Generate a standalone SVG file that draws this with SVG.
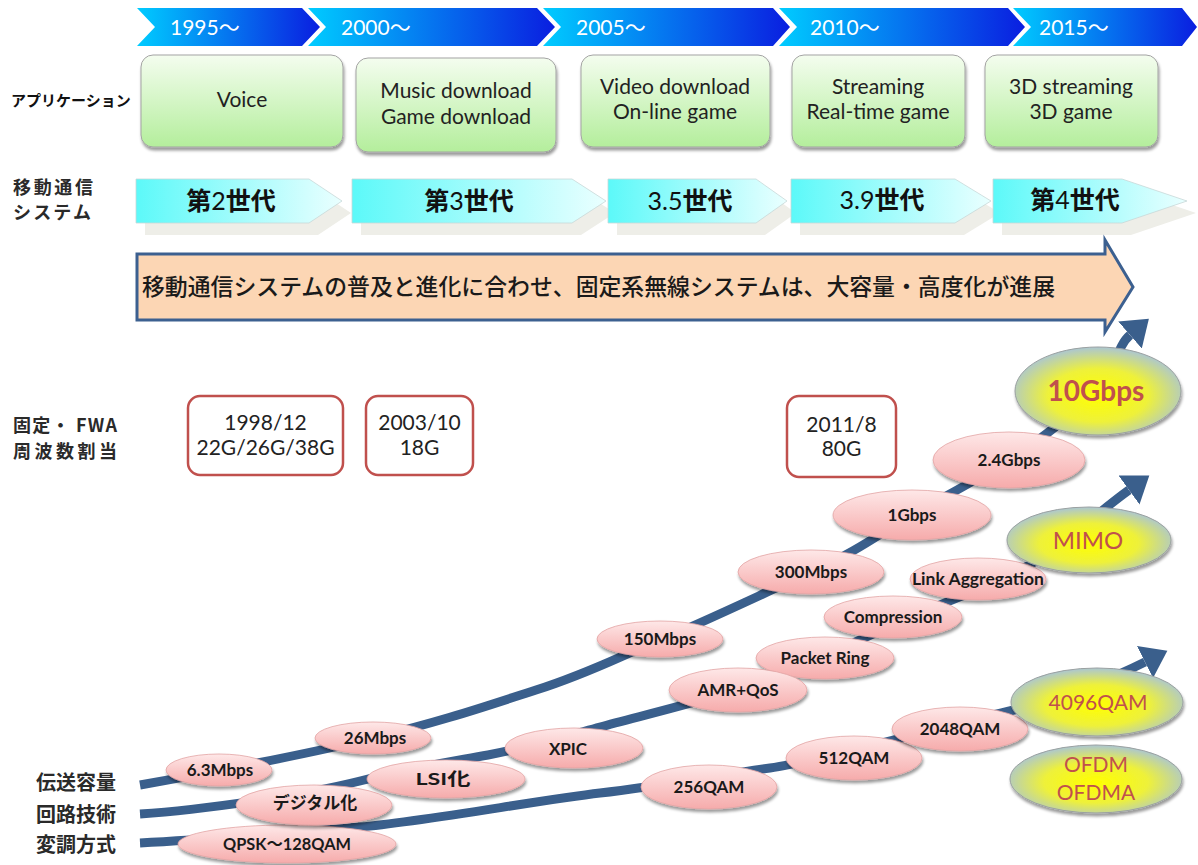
<svg xmlns="http://www.w3.org/2000/svg" width="1198" height="865" viewBox="0 0 1198 865">
<defs>
<style>
.lat{font-family:Lato,"Noto Sans CJK JP",sans-serif}
.jp{font-family:"Noto Sans CJK JP",sans-serif}
.yr{font-size:21px;fill:#fff}
.gb{fill:url(#gGreen);stroke:#a3a3a3;stroke-width:1}
.gt{font-size:21px;fill:#222;text-anchor:middle}
.lbl{font-size:20px;font-weight:bold;fill:#2a2a2a}
.lbs{font-size:18px;font-weight:bold;fill:#2a2a2a}
.gen{font-size:25px;font-weight:bold;fill:#111;text-anchor:middle}
.dg{font-family:Lato,sans-serif;font-weight:normal}
.gsh{fill:#eeeee8}
.fb{fill:#fff;stroke:#c0504d;stroke-width:2.5}
.ft{font-size:21px;fill:#222;text-anchor:middle}
.pk{fill:url(#gPink);stroke:#e2a3a3;stroke-width:0.8}
.pt{font-size:17px;font-weight:bold;fill:#1a1a1a;text-anchor:middle}
.ye{fill:url(#gYel);stroke:#9aa0a0;stroke-width:1}
.yt{fill:#c0504d;text-anchor:middle}
.ln{fill:none;stroke:#3a5f8c;stroke-width:9;marker-end:url(#ah)}
</style>
<linearGradient id="gTop" x1="0" y1="0" x2="1" y2="0"><stop offset="0" stop-color="#00ccff"/><stop offset="1" stop-color="#0a1ee0"/></linearGradient>
<linearGradient id="gGreen" x1="0" y1="0" x2="0" y2="1"><stop offset="0" stop-color="#f4fdef"/><stop offset="1" stop-color="#b4ee9c"/></linearGradient>
<linearGradient id="gGen" x1="0" y1="0" x2="1" y2="0"><stop offset="0" stop-color="#5cf9f9"/><stop offset="1" stop-color="#eaffff"/></linearGradient>
<linearGradient id="gPink" x1="0" y1="0" x2="0" y2="1"><stop offset="0" stop-color="#fee8e8"/><stop offset="1" stop-color="#f6abab"/></linearGradient>
<radialGradient id="gYel" cx="0.5" cy="0.55" r="0.55"><stop offset="0" stop-color="#ffff00"/><stop offset="0.55" stop-color="#eef13a"/><stop offset="1" stop-color="#abc6d2"/></radialGradient>
<filter id="sh" x="-10%" y="-10%" width="130%" height="140%"><feGaussianBlur in="SourceAlpha" stdDeviation="1.5"/><feOffset dx="1" dy="2.5"/><feComponentTransfer><feFuncA type="linear" slope="0.4"/></feComponentTransfer><feMerge><feMergeNode/><feMergeNode in="SourceGraphic"/></feMerge></filter>
<marker id="ah" markerUnits="userSpaceOnUse" markerWidth="28" markerHeight="40" viewBox="0 -20 28 40" refX="0" refY="0" orient="auto"><path d="M0,-18 L25,0 L0,18 z" fill="#3a5f8c"/></marker>
</defs>
<rect width="1198" height="865" fill="#fff"/>

<g id="timeline">
<path d="M137,8 H302 L320,27 L302,46 H137 L155,27 Z" fill="url(#gTop)"/>
<path d="M308,8 H537 L555,27 L537,46 H308 L326,27 Z" fill="url(#gTop)"/>
<path d="M543,8 H773 L790,27 L773,46 H543 L561,27 Z" fill="url(#gTop)"/>
<path d="M779,8 H1008 L1025,27 L1008,46 H779 L797,27 Z" fill="url(#gTop)"/>
<path d="M1013,8 H1182 L1197,27 L1182,46 H1013 L1031,27 Z" fill="url(#gTop)"/>
<text class="lat yr" x="170" y="35">1995～</text>
<text class="lat yr" x="341" y="35">2000～</text>
<text class="lat yr" x="576" y="35">2005～</text>
<text class="lat yr" x="810" y="35">2010～</text>
<text class="lat yr" x="1039" y="35">2015～</text>
</g>

<g id="labels">
<text class="jp" x="11" y="106" font-size="15" font-weight="bold" fill="#111">アプリケーション</text>
<text class="jp lbs" x="13" y="194" textLength="80" lengthAdjust="spacing">移動通信</text>
<text class="jp lbs" x="13" y="219" textLength="78" lengthAdjust="spacing">システム</text>
<text class="jp lbs" x="13" y="432" textLength="104" lengthAdjust="spacing">固定・ FWA</text>
<text class="jp lbs" x="13" y="458" textLength="104" lengthAdjust="spacing">周波数割当</text>
<text class="jp lbl" x="36" y="790">伝送容量</text>
<text class="jp lbl" x="36" y="822">回路技術</text>
<text class="jp lbl" x="36" y="852">変調方式</text>
</g>

<g id="app-voice"><rect class="gb" x="141" y="55" width="202" height="92" rx="12" filter="url(#sh)"/><text class="lat gt" x="242" y="107">Voice</text></g>
<g id="app-music"><rect class="gb" x="356" y="58" width="200" height="94" rx="12" filter="url(#sh)"/><text class="lat gt" x="456" y="98">Music download</text><text class="lat gt" x="456" y="124">Game download</text></g>
<g id="app-video"><rect class="gb" x="581" y="55" width="189" height="92" rx="12" filter="url(#sh)"/><text class="lat gt" x="675" y="94">Video download</text><text class="lat gt" x="675" y="119">On-line game</text></g>
<g id="app-stream"><rect class="gb" x="792" y="55" width="173" height="92" rx="12" filter="url(#sh)"/><text class="lat gt" x="878" y="94">Streaming</text><text class="lat gt" x="878" y="119">Real-time game</text></g>
<g id="app-3d"><rect class="gb" x="985" y="55" width="173" height="92" rx="12" filter="url(#sh)"/><text class="lat gt" x="1071" y="94">3D streaming</text><text class="lat gt" x="1071" y="119">3D game</text></g>

<g id="gen-2"><path class="gsh" d="M145,191 H318 L351,213 L318,235 H145 Z"/><path d="M136,179 H309 L342,201 L309,223 H136 Z" fill="url(#gGen)" stroke="#c8d8d8" stroke-width="0.8"/><text class="jp gen" x="231" y="210">第<tspan class="dg">2</tspan>世代</text></g>
<g id="gen-3"><path class="gsh" d="M361,191 H581 L615,213 L581,235 H361 Z"/><path d="M352,179 H572 L606,201 L572,223 H352 Z" fill="url(#gGen)" stroke="#c8d8d8" stroke-width="0.8"/><text class="jp gen" x="469" y="210">第<tspan class="dg">3</tspan>世代</text></g>
<g id="gen-35"><path class="gsh" d="M617,191 H765 L796,213 L765,235 H617 Z"/><path d="M608,179 H756 L787,201 L756,223 H608 Z" fill="url(#gGen)" stroke="#c8d8d8" stroke-width="0.8"/><text class="jp gen" x="690" y="210"><tspan class="dg">3.5</tspan>世代</text></g>
<g id="gen-39"><path class="gsh" d="M800,191 H964 L1000,213 L964,235 H800 Z"/><path d="M791,179 H955 L991,201 L955,223 H791 Z" fill="url(#gGen)" stroke="#c8d8d8" stroke-width="0.8"/><text class="jp gen" x="882" y="209" font-size="22"><tspan class="dg">3.9</tspan>世代</text></g>
<g id="gen-4"><path class="gsh" d="M1002,191 H1131 L1196,213 L1131,235 H1002 Z"/><path d="M993,179 H1122 L1187,201 L1122,223 H993 Z" fill="url(#gGen)" stroke="#c8d8d8" stroke-width="0.8"/><text class="jp gen" x="1075" y="209" font-size="22">第<tspan class="dg">4</tspan>世代</text></g>

<g id="trend-arrow"><path d="M137,254 H1105 V240 L1133,287 L1105,332 V320 H137 Z" fill="#fcd6b4" stroke="#3c6090" stroke-width="3" stroke-linejoin="miter"/><text class="jp" x="142" y="295" font-size="23" font-weight="500" fill="#1a1a1a" textLength="913" lengthAdjust="spacingAndGlyphs">移動通信システムの普及と進化に合わせ、固定系無線システムは、大容量・高度化が進展</text></g>

<g id="freq-1998"><rect class="fb" x="188" y="396" width="155" height="79" rx="12"/><text class="lat ft" x="265.5" y="430">1998/12</text><text class="lat ft" x="265.5" y="455">22G/26G/38G</text></g>
<g id="freq-2003"><rect class="fb" x="366" y="396" width="107" height="79" rx="12"/><text class="lat ft" x="419.5" y="430">2003/10</text><text class="lat ft" x="419.5" y="455">18G</text></g>
<g id="freq-2011"><rect class="fb" x="787" y="396" width="109" height="81" rx="12"/><text class="lat ft" x="841.5" y="432">2011/8</text><text class="lat ft" x="841.5" y="456">80G</text></g>

<g id="connectors">
<path class="ln" d="M140,785 C180,778 300,756 373,738 S480,708 536,690 S620,656 660,640 S760,595 811,572 S880,533 912,515 S980,478 1009,460 S1080,408 1098,391 S1115,348 1130,335"/>
<path class="ln" d="M140,814 C200,810 300,796 360,781 S450,762 488,755 S560,738 600,727 S720,697 760,682 S860,640 900,622 S980,590 1020,570 S1090,518 1129,490"/>
<path class="ln" d="M140,843 C200,840 300,832 360,827 S540,800 600,793 S720,775 770,768 S960,722 1014,710 S1125,672 1145,662"/>
</g>

<g id="n-qpsk"><ellipse class="pk" cx="287" cy="844" rx="109" ry="19" filter="url(#sh)"/><text class="lat pt" x="287" y="850" textLength="128" lengthAdjust="spacingAndGlyphs">QPSK～128QAM</text></g>
<g id="n-lsi"><ellipse class="pk" cx="446" cy="779" rx="79" ry="19" filter="url(#sh)"/><text class="lat pt" x="443" y="785" textLength="55" lengthAdjust="spacingAndGlyphs">LSI化</text></g>
<g id="n-digital"><ellipse class="pk" cx="314" cy="805" rx="78" ry="20" filter="url(#sh)"/><text class="jp pt" x="315" y="809">デジタル化</text></g>
<g id="n-63"><ellipse class="pk" cx="219" cy="770" rx="53" ry="16" filter="url(#sh)"/><text class="lat pt" x="220" y="776">6.3Mbps</text></g>
<g id="n-26"><ellipse class="pk" cx="373" cy="738" rx="58" ry="16" filter="url(#sh)"/><text class="lat pt" x="375" y="744">26Mbps</text></g>
<g id="n-xpic"><ellipse class="pk" cx="574" cy="748" rx="69" ry="20" filter="url(#sh)"/><text class="lat pt" x="568" y="755">XPIC</text></g>
<g id="n-150"><ellipse class="pk" cx="660" cy="639" rx="63" ry="18" filter="url(#sh)"/><text class="lat pt" x="660" y="645">150Mbps</text></g>
<g id="n-300"><ellipse class="pk" cx="811" cy="572" rx="73" ry="22" filter="url(#sh)"/><text class="lat pt" x="811" y="578">300Mbps</text></g>
<g id="n-1g"><ellipse class="pk" cx="912" cy="515" rx="79" ry="25" filter="url(#sh)"/><text class="lat pt" x="912" y="521">1Gbps</text></g>
<g id="n-24g"><ellipse class="pk" cx="1009" cy="460" rx="76" ry="28" filter="url(#sh)"/><text class="lat pt" x="1009" y="466">2.4Gbps</text></g>
<g id="n-link"><ellipse class="pk" cx="978" cy="579" rx="68" ry="21" filter="url(#sh)"/><text class="lat pt" x="978" y="585" textLength="132" lengthAdjust="spacingAndGlyphs">Link Aggregation</text></g>
<g id="n-comp"><ellipse class="pk" cx="893" cy="617" rx="69" ry="21" filter="url(#sh)"/><text class="lat pt" x="893" y="623">Compression</text></g>
<g id="n-packet"><ellipse class="pk" cx="825" cy="658" rx="69" ry="21" filter="url(#sh)"/><text class="lat pt" x="825" y="664">Packet Ring</text></g>
<g id="n-amr"><ellipse class="pk" cx="738" cy="690" rx="69" ry="22" filter="url(#sh)"/><text class="lat pt" x="738" y="696">AMR+QoS</text></g>
<g id="n-256"><ellipse class="pk" cx="709" cy="787" rx="68" ry="22" filter="url(#sh)"/><text class="lat pt" x="709" y="793">256QAM</text></g>
<g id="n-512"><ellipse class="pk" cx="854" cy="758" rx="68" ry="22" filter="url(#sh)"/><text class="lat pt" x="854" y="764">512QAM</text></g>
<g id="n-2048"><ellipse class="pk" cx="960" cy="729" rx="68" ry="22" filter="url(#sh)"/><text class="lat pt" x="960" y="735">2048QAM</text></g>

<g id="n-10g"><ellipse class="ye" cx="1098" cy="391" rx="83" ry="44" filter="url(#sh)"/><text class="lat yt" x="1096" y="401" font-size="28" font-weight="bold">10Gbps</text></g>
<g id="n-mimo"><ellipse class="ye" cx="1089" cy="540" rx="82" ry="33" filter="url(#sh)"/><text class="lat yt" x="1088" y="549" font-size="24">MIMO</text></g>
<g id="n-4096"><ellipse class="ye" cx="1097" cy="702" rx="86" ry="34" filter="url(#sh)"/><text class="lat yt" x="1098" y="710" font-size="21">4096QAM</text></g>
<g id="n-ofdm"><ellipse class="ye" cx="1096" cy="779" rx="86" ry="34" filter="url(#sh)"/><text class="lat yt" x="1096" y="772" font-size="21">OFDM</text><text class="lat yt" x="1096" y="800" font-size="21">OFDMA</text></g>
</svg>
